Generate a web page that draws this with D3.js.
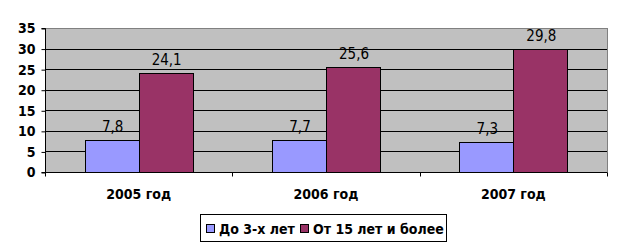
<!DOCTYPE html>
<html><head><meta charset="utf-8">
<script src="https://cdn.jsdelivr.net/npm/d3@7"></script>
<style>body{margin:0;background:#fff}svg{display:block}</style>
</head><body>
<script>
const categories = ["2005 год", "2006 год", "2007 год"];
const seriesNames = ["До 3-х лет", "От 15 лет и более"];
const seriesA = [7.8, 7.7, 7.3];
const seriesB = [24.1, 25.6, 29.8];
const valueLabels = [["7,8", "7,7", "7,3"], ["24,1", "25,6", "29,8"]];
const yTicks = [0, 5, 10, 15, 20, 25, 30, 35];
const colors = ["#9999FF", "#993366"];

const W = 623, H = 251;
const svg = d3.select("body").append("svg").attr("width", W).attr("height", H);
const L = 45, R = 607, T = 28, B = 172;
const font = "'DejaVu Sans Condensed', 'DejaVu Sans', Verdana, sans-serif";

const x = d3.scaleBand().domain(categories).range([L, R]).paddingInner(0).paddingOuter(0);
const y = d3.scaleLinear().domain([0, 35]).range([B, T]);

svg.append("rect").attr("x", L + 0.5).attr("y", T + 0.5).attr("width", R - L).attr("height", B - T)
  .attr("fill", "#C0C0C0").attr("stroke", "#808080").attr("stroke-width", 1);

svg.append("g").selectAll("line").data(yTicks.filter(d => d > 0 && d < 35)).join("line")
  .attr("x1", L).attr("x2", R).attr("y1", d => Math.round(y(d)) + 0.5).attr("y2", d => Math.round(y(d)) + 0.5)
  .attr("stroke", "#000").attr("stroke-width", 1);

const barW = 54;
const data = [seriesA, seriesB];
data.forEach((s, si) => {
  svg.append("g").selectAll("rect").data(s).join("rect")
    .attr("x", (d, i) => Math.round(x(categories[i]) + x.bandwidth() / 2 - barW + si * barW) + 0.5)
    .attr("y", d => Math.round(y(d)) + 0.5)
    .attr("width", barW)
    .attr("height", d => Math.round(B - y(d)))
    .attr("fill", colors[si]).attr("stroke", "#000").attr("stroke-width", 1);
  svg.append("g").selectAll("text").data(s).join("text")
    .attr("x", (d, i) => x(categories[i]) + x.bandwidth() / 2 - barW / 2 + si * barW + 1)
    .attr("y", d => y(d) - 8)
    .attr("text-anchor", "middle")
    .attr("font-family", font).attr("font-size", 15).attr("fill", "#000")
    .text((d, i) => valueLabels[si][i]);
});

// y axis
const yAxis = d3.axisLeft(y).tickValues(yTicks).tickSize(4).tickPadding(6).tickFormat(d3.format("d"));
const gy = svg.append("g").attr("transform", `translate(${L + 0.5},0.5)`).call(yAxis);
gy.select(".domain").attr("stroke", "#000").attr("d", `M-4,${T}H0V${B}H-4`);
gy.selectAll("text").attr("font-family", font).attr("font-size", 14).attr("font-weight", "bold").attr("fill", "#000");
gy.selectAll(".tick line").attr("stroke", "#000");

// x axis
const gx = svg.append("g").attr("transform", `translate(0,${B + 0.5})`);
gx.append("line").attr("x1", L).attr("x2", R).attr("stroke", "#000");
const bounds = categories.map(c => x(c)).concat([R]);
gx.selectAll("line.tk").data(bounds).join("line").attr("class", "tk")
  .attr("x1", d => Math.round(d) + 0.5).attr("x2", d => Math.round(d) + 0.5).attr("y1", 0).attr("y2", 4).attr("stroke", "#000");
gx.selectAll("text").data(categories).join("text")
  .attr("x", d => x(d) + x.bandwidth() / 2).attr("y", 26)
  .attr("text-anchor", "middle").attr("font-family", font).attr("font-size", 14).attr("font-weight", "bold")
  .text(d => d);

// legend
const lg = svg.append("g");
lg.append("rect").attr("x", 200.5).attr("y", 214.5).attr("width", 246).attr("height", 27)
  .attr("fill", "#fff").attr("stroke", "#000");
const lx = [206, 300];
seriesNames.forEach((n, i) => {
  lg.append("rect").attr("x", lx[i] + 0.5).attr("y", 224.5).attr("width", 8).attr("height", 8)
    .attr("fill", colors[i]).attr("stroke", "#000");
  lg.append("text").attr("x", lx[i] + 13).attr("y", 234).attr("font-family", font).attr("font-size", 14)
    .attr("font-weight", "bold").text(n);
});
</script>
</body></html>
